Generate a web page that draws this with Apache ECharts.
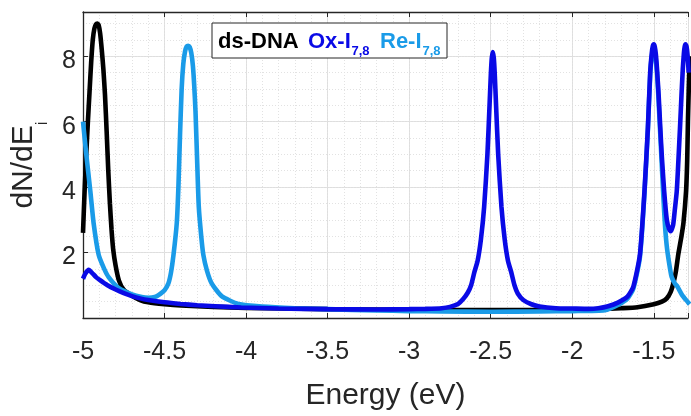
<!DOCTYPE html>
<html><head><meta charset="utf-8">
<script src="https://cdn.jsdelivr.net/npm/echarts@6/dist/echarts.min.js"></script>
<style>html,body{margin:0;padding:0;background:#fff}#c{width:691px;height:416px}</style>
</head><body><div id="c"></div>
<script>
// Tick labels
const xTicks = [-5, -4.5, -4, -3.5, -3, -2.5, -2, -1.5];
const yTicks = [2, 4, 6, 8];

// ds-DNA (black)
const energyDs = [-5.00,-4.99,-4.98,-4.97,-4.96,-4.95,-4.94,-4.93,-4.92,-4.912,-4.904,-4.895,-4.885,-4.875,-4.865,-4.855,-4.845,-4.835,-4.825,-4.815,-4.80,-4.78,-4.75,-4.70,-4.65,-4.60,-4.50,-4.40,-4.20,-4.00,-3.50,-3.00,-2.50,-2.00,-1.84,-1.70,-1.60,-1.50,-1.45,-1.42,-1.396,-1.38,-1.365,-1.35,-1.33,-1.318,-1.302,-1.295,-1.29,-1.28];
const dosDs    = [2.6,3.9,5.0,6.0,6.9,7.8,8.5,8.85,8.98,9.0,8.95,8.7,8.2,7.6,6.8,5.7,4.5,3.5,2.7,2.1,1.6,1.15,0.86,0.68,0.55,0.48,0.42,0.38,0.34,0.31,0.27,0.25,0.24,0.24,0.27,0.30,0.33,0.42,0.50,0.60,0.80,1.06,1.40,1.93,2.50,2.90,3.87,4.80,6.10,8.00];

// Ox-I7,8 (blue)
const energyOx = [-5.00,-4.985,-4.965,-4.945,-4.92,-4.90,-4.85,-4.80,-4.75,-4.70,-4.65,-4.60,-4.50,-4.40,-4.30,-4.19,-4.03,-3.80,-3.50,-3.20,-3.00,-2.90,-2.80,-2.75,-2.70,-2.67,-2.64,-2.62,-2.60,-2.58,-2.56,-2.54,-2.52,-2.507,-2.499,-2.493,-2.487,-2.481,-2.475,-2.467,-2.454,-2.434,-2.414,-2.394,-2.374,-2.354,-2.334,-2.30,-2.25,-2.20,-2.10,-2.00,-1.90,-1.84,-1.78,-1.72,-1.66,-1.625,-1.585,-1.557,-1.536,-1.522,-1.512,-1.506,-1.50,-1.494,-1.487,-1.48,-1.47,-1.46,-1.45,-1.436,-1.42,-1.406,-1.396,-1.381,-1.371,-1.359,-1.349,-1.339,-1.33,-1.322,-1.315,-1.31,-1.305,-1.299,-1.292,-1.286];
const dosOx    = [1.20,1.36,1.47,1.38,1.25,1.17,1.00,0.87,0.76,0.67,0.60,0.55,0.48,0.43,0.39,0.36,0.32,0.29,0.27,0.26,0.27,0.28,0.30,0.34,0.43,0.57,0.78,1.00,1.40,1.75,2.40,3.40,5.00,6.50,7.45,7.95,8.13,7.95,7.45,6.50,5.00,3.40,2.40,1.75,1.40,1.00,0.75,0.55,0.42,0.35,0.30,0.29,0.28,0.30,0.36,0.47,0.66,0.96,1.93,3.87,5.82,7.50,8.10,8.30,8.36,8.30,8.05,7.60,6.80,5.82,4.90,3.87,3.00,2.72,2.65,2.85,3.30,3.87,4.80,5.82,6.80,7.60,8.10,8.30,8.36,8.30,8.00,7.50];

// Re-I7,8 (light blue)
const energyRe = [-5.00,-4.98,-4.955,-4.935,-4.904,-4.87,-4.843,-4.78,-4.70,-4.64,-4.598,-4.56,-4.537,-4.50,-4.476,-4.46,-4.445,-4.425,-4.415,-4.405,-4.395,-4.385,-4.374,-4.364,-4.355,-4.346,-4.336,-4.326,-4.318,-4.31,-4.30,-4.29,-4.275,-4.262,-4.24,-4.211,-4.15,-4.047,-3.90,-3.70,-3.50,-3.20,-3.00,-2.80,-2.50,-2.20,-2.00,-1.80,-1.72,-1.66,-1.625,-1.585,-1.557,-1.536,-1.522,-1.512,-1.50,-1.49,-1.48,-1.47,-1.46,-1.45,-1.44,-1.43,-1.418,-1.40,-1.39,-1.37,-1.355,-1.326,-1.29,-1.28];
const dosRe    = [6.0,5.0,3.87,2.9,1.93,1.5,1.25,0.91,0.72,0.64,0.62,0.64,0.70,0.85,1.06,1.4,1.93,2.9,4.0,5.6,7.0,7.76,8.15,8.3,8.32,8.28,8.1,7.7,7.1,6.3,4.8,3.4,2.5,1.93,1.45,1.06,0.67,0.43,0.35,0.30,0.27,0.23,0.21,0.20,0.19,0.20,0.21,0.24,0.40,0.60,0.90,1.85,3.80,5.75,7.40,8.00,8.26,8.0,7.5,6.6,5.6,4.6,3.6,2.75,2.1,1.5,1.25,1.05,0.96,0.70,0.48,0.42];

const zip = (e, v) => e.map((x, i) => [x, v[i]]);
const FONT = '"Liberation Sans", Arial, Helvetica, sans-serif';
const AX = '#262626';
const near = (arr, v) => arr.some(t => Math.abs(t - v) < 1e-6);

const chart = echarts.init(document.getElementById('c'));
chart.setOption({
  animation: false,
  backgroundColor: '#fff',
  grid: { left: 83, right: 0, top: 12, bottom: 83 },
  xAxis: [
    { type: 'value', min: -5, max: -1.29, interval: 0.5, position: 'bottom',
      axisLine: { show: true, onZero: false, lineStyle: { color: AX, width: 1.3 } },
      axisTick: { show: true, inside: true, length: 5, lineStyle: { color: AX } },
      axisLabel: { margin: 22, fontSize: 25, color: AX, fontFamily: FONT,
        formatter: v => near(xTicks, v) ? String(v) : '' },
      splitLine: { show: true, lineStyle: { color: '#dedede', width: 1 } },
      name: 'Energy (eV)', nameLocation: 'middle', nameGap: 63,
      nameTextStyle: { fontSize: 30, color: AX, fontFamily: FONT } },
    { type: 'value', min: -5, max: -1.29, interval: 0.5, position: 'top',
      axisLine: { show: true, onZero: false, lineStyle: { color: AX, width: 1.3 } },
      axisTick: { show: true, inside: true, length: 5, lineStyle: { color: AX } },
      axisLabel: { show: false }, splitLine: { show: false } },
    { type: 'value', min: -5, max: -1.29, interval: 0.1,
      axisLine: { show: false }, axisTick: { show: false }, axisLabel: { show: false },
      splitLine: { show: true, lineStyle: { color: '#e2e2e2', width: 1, type: [1, 2] } } }
  ],
  yAxis: [
    { type: 'value', min: 0, max: 9.35, interval: 2, position: 'left',
      axisLine: { show: true, onZero: false, lineStyle: { color: AX, width: 1.3 } },
      axisTick: { show: true, inside: true, length: 5, lineStyle: { color: AX } },
      axisLabel: { margin: 7, color: AX, fontFamily: FONT, fontSize: 25,
        formatter: v => near(yTicks, v) ? '{v|' + v + '}' : '',
        rich: { v: { fontSize: 25, color: AX, fontFamily: FONT, padding: [10, 0, 0, 0] } } },
      splitLine: { show: true, lineStyle: { color: '#dedede', width: 1 } },
      name: '{a|dN/dE}{s|i}', nameLocation: 'middle', nameGap: 30,
      nameTextStyle: { fontSize: 30, color: AX, fontFamily: FONT,
        rich: {
          a: { fontSize: 30, color: AX, fontFamily: FONT, padding: [0, 0, 12, 0], verticalAlign: 'bottom' },
          s: { fontSize: 17, color: AX, fontFamily: FONT, verticalAlign: 'bottom' }
        } } },
    { type: 'value', min: 0, max: 9.35, interval: 0.5,
      axisLine: { show: false }, axisTick: { show: false }, axisLabel: { show: false },
      splitLine: { show: true, lineStyle: { color: '#e2e2e2', width: 1, type: [1, 2] } } }
  ],
  series: [
    { type: 'line', name: 'ds-DNA', data: zip(energyDs, dosDs), symbol: 'none', smooth: 0.2,
      lineStyle: { color: '#000000', width: 4.6 }, clip: true },
    { type: 'line', name: 'Re-I7,8', data: zip(energyRe, dosRe), symbol: 'none', smooth: 0.2,
      lineStyle: { color: '#1a9be8', width: 4.6 }, clip: true },
    { type: 'line', name: 'Ox-I7,8', data: zip(energyOx, dosOx), symbol: 'none', smooth: 0.2,
      lineStyle: { color: '#0a0ae6', width: 4.6 }, clip: true }
  ],
  graphic: [
    { type: 'rect', shape: { x: 212, y: 23, width: 235, height: 35 },
      style: { fill: '#fff', stroke: AX, lineWidth: 1 }, z: 100 },
    { type: 'text', x: 218, y: 42, z: 101,
      style: { text: 'ds-DNA', fontSize: 22, fontWeight: 'bold', fontFamily: FONT, fill: '#000', verticalAlign: 'middle' } },
    { type: 'text', x: 308, y: 42, z: 101,
      style: { text: 'Ox-I', fontSize: 22, fontWeight: 'bold', fontFamily: FONT, fill: '#0a0ae6', verticalAlign: 'middle' } },
    { type: 'text', x: 351.5, y: 51, z: 101,
      style: { text: '7,8', fontSize: 13, fontWeight: 'bold', fontFamily: FONT, fill: '#0a0ae6', verticalAlign: 'middle' } },
    { type: 'text', x: 380, y: 42, z: 101,
      style: { text: 'Re-I', fontSize: 22, fontWeight: 'bold', fontFamily: FONT, fill: '#1a9be8', verticalAlign: 'middle' } },
    { type: 'text', x: 422.5, y: 51, z: 101,
      style: { text: '7,8', fontSize: 13, fontWeight: 'bold', fontFamily: FONT, fill: '#1a9be8', verticalAlign: 'middle' } }
  ]
});
</script>
</body></html>
